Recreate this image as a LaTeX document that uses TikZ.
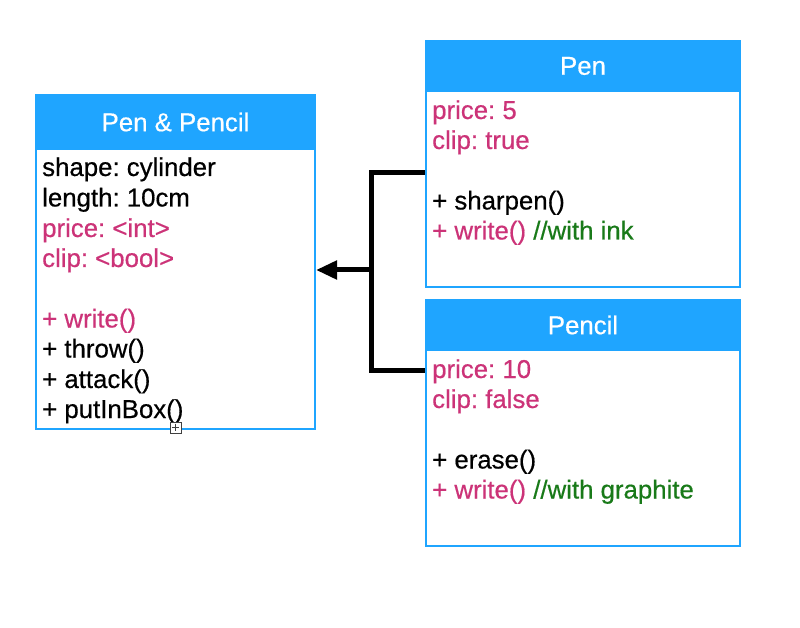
\documentclass[tikz,border=0pt]{standalone}
\usepackage{fontspec}
\setmainfont{Liberation Sans}[FakeBold=0.5]
\frenchspacing
\usetikzlibrary{arrows.meta}
\definecolor{umlblue}{RGB}{31,165,255}
\definecolor{umlpink}{RGB}{204,51,120}
\definecolor{umlgreen}{RGB}{25,122,25}
\newcommand\pinktxt[1]{\textcolor{umlpink}{#1}}
\newcommand\greentxt[1]{\textcolor{umlgreen}{#1}}
\tikzset{
  classbox/.style={draw=umlblue,line width=2pt,fill=white,anchor=north west,inner sep=0pt},
  classhead/.style={classbox,fill=umlblue,text=white},
  member/.style={anchor=base west,inner sep=0pt},
}
\begin{document}
\begin{tikzpicture}[x=1pt,y=-1pt,>={Triangle[length=21pt,width=18pt]},font=\fontsize{25.8}{30}\selectfont]
\useasboundingbox (0,0) rectangle (800,628);
% Pen & Pencil
\node[classbox,minimum width=279pt,minimum height=334pt] (pp) at (35,94) {};
\node[classhead,minimum width=279pt,minimum height=54pt] (pphead) at (35,94) {Pen \& Pencil};
\foreach \y/\txt [count=\i] in {176/shape: cylinder, 206.5/length: 10cm, 237/\pinktxt{price: <int>},
    267/\pinktxt{clip: <bool>}, 327.5/\pinktxt{+ write()}, 357.5/+ throw(), 388/+ attack(), 418/+ putInBox()}
{
    \node[member] (pp\i) at (42,\y) {\txt};
}
\node[draw=black!75,fill=white,line width=0.8pt,minimum size=11pt,inner sep=0pt] (handle) at (175.5,427.5) {};
\draw[black!75,line width=0.8pt] ([yshift=-2pt]handle.north)--([yshift=2pt]handle.south)
    ([xshift=2pt]handle.west)--([xshift=-2pt]handle.east);
% Pen
\node[classbox,minimum width=314pt,minimum height=246pt] (pen) at (425,40) {};
\node[classhead,minimum width=314pt,minimum height=50pt] (penhead) at (425,40) {Pen};
\foreach \y/\txt [count=\i] in {119/\pinktxt{price: 5}, 149/\pinktxt{clip: true}, 209.5/+ sharpen(),
    239.5/{\pinktxt{+ write()} \greentxt{//with ink}}}
{
    \node[member] (pen\i) at (432,\y) {\txt};
}
% Pencil
\node[classbox,minimum width=314pt,minimum height=246pt] (pencil) at (425,299) {};
\node[classhead,minimum width=314pt,minimum height=50pt] (pencilhead) at (425,299) {Pencil};
\foreach \y/\txt [count=\i] in {378/\pinktxt{price: 10}, 408/\pinktxt{clip: false}, 468.5/+ erase(),
    498.5/{\pinktxt{+ write()} \greentxt{//with graphite}}}
{
    \node[member] (pencil\i) at (432,\y) {\txt};
}
% inheritance
\coordinate (join) at (371,270);
\draw[line width=5pt] ([yshift=-133pt]pen.north west) -| (join) |- ([yshift=-71pt]pencil.north west);
\draw[line width=5pt,->] (join) -- (join -| pp.east);
\end{tikzpicture}
\end{document}
